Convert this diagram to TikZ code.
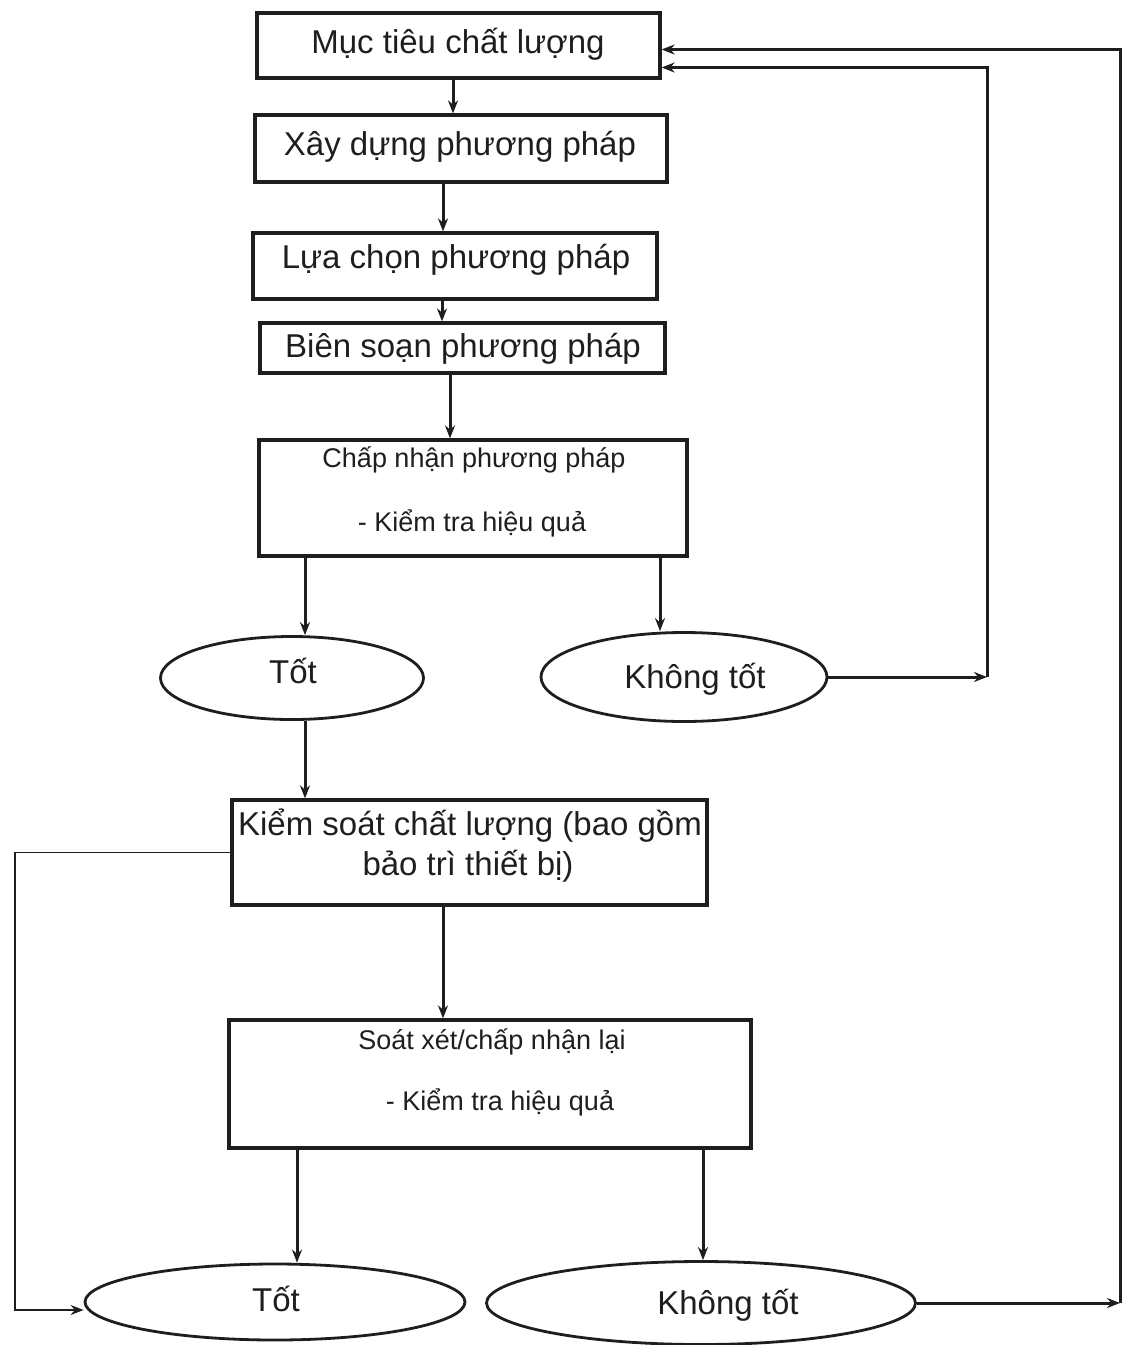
\documentclass[tikz,border=0pt]{standalone}
\usepackage{fontspec}
\setmainfont{Liberation Sans}
\usetikzlibrary{arrows.meta,shapes.geometric}
\definecolor{ink}{HTML}{1E1E1E}

\begin{document}
\begin{tikzpicture}[x=1pt,y=-1pt,>={Stealth[length=13pt,width=10pt]},
  box/.style={draw=ink,line width=3.2pt,inner sep=0pt},
  oval/.style={draw=ink,ellipse,line width=2.8pt,inner sep=0pt},
  big/.style={font=\fontsize{33}{40}\selectfont,text=ink,anchor=base,inner sep=0pt},
  small/.style={font=\fontsize{27}{32}\selectfont,text=ink,anchor=base,inner sep=0pt},
  link/.style={->,draw=ink,line width=3pt}]
\useasboundingbox (0,0) rectangle (1123,1345);
\node[box,minimum width=403,minimum height=65] (goal) at (458.5,45.5) {};
\node[big] (goal-t) at (458,53) {Mục tiêu chất lượng};
\node[box,minimum width=412,minimum height=67] (build) at (461,148.5) {};
\node[big] (build-t) at (460,155) {Xây dựng phương pháp};
\node[box,minimum width=404,minimum height=66] (pick) at (455,266) {};
\node[big] (pick-t) at (456,268) {Lựa chọn phương pháp};
\node[box,minimum width=405,minimum height=50] (write) at (462.5,348) {};
\node[big] (write-t) at (463,357) {Biên soạn phương pháp};
\node[box,minimum width=428,minimum height=116] (accept) at (473,498) {};
\node[small] (accept-t) at (474,467) {Chấp nhận phương pháp};
\node[small] (accept-c) at (472,531) {- Kiểm tra hiệu quả};
\node[oval,minimum width=263,minimum height=83] (ok1) at (292,678) {};
\node[big] (ok1-t) at (293,683) {Tốt};
\node[oval,minimum width=286,minimum height=89] (bad1) at (684,677) {};
\node[big] (bad1-t) at (695,688) {Không tốt};
\node[box,minimum width=475,minimum height=105] (qc) at (469.5,852.5) {};
\node[big] (qc-t) at (470,835) {Kiểm soát chất lượng (bao gồm};
\node[big] (qc-c) at (468,875) {bảo trì thiết bị)};
\node[box,minimum width=522,minimum height=128] (review) at (490,1084) {};
\node[small] (review-t) at (492,1049) {Soát xét/chấp nhận lại};
\node[small] (review-c) at (500,1110) {- Kiểm tra hiệu quả};
\node[oval,minimum width=380,minimum height=76] (ok2) at (275,1302) {};
\node[big] (ok2-t) at (276,1311) {Tốt};
\node[oval,minimum width=429,minimum height=83] (bad2) at (701,1303) {};
\node[big] (bad2-t) at (728,1314) {Không tốt};
\coordinate (back1) at (987,0);
\coordinate (back2) at (1120,0);
\coordinate (back3) at (15,1310);
\draw[link] (goal.south -| 453,0) -- (build.north -| 453,0);
\draw[link] (build.south -| 443,0) -- (pick.north -| 443,0);
\draw[link] (pick.south -| 442,0) -- (write.north -| 442,0);
\draw[link] (write.south -| 450,0) -- (accept.north -| 450,0);
\draw[link] (accept.south -| 305,0) -- (ok1.north -| 305,0);
\draw[link] (accept.south -| 660,0) -- (bad1.north -| 660,0);
\draw[link] (ok1.south -| 305,0) -- (qc.north -| 305,0);
\draw[link] (qc.south -| 443,0) -- (review.north -| 443,0);
\draw[link] (review.south -| 297,0) -- (ok2.north -| 297,0);
\draw[link] (review.south -| 703,0) -- (bad2.north -| 703,0);
\draw[link] (bad1.east) -- (bad1.east -| back1);
\draw[link] (bad1.east -| back1) |- ([yshift=-22pt]goal.east);
\draw[link] (bad2.east) -- (bad2.east -| back2);
\draw[link] (bad2.east -| back2) |- ([yshift=-4pt]goal.east);
\draw[link,line width=1.8pt] (qc.west) -| (back3) -- (back3 -| ok2.west);
\end{tikzpicture}
\end{document}
